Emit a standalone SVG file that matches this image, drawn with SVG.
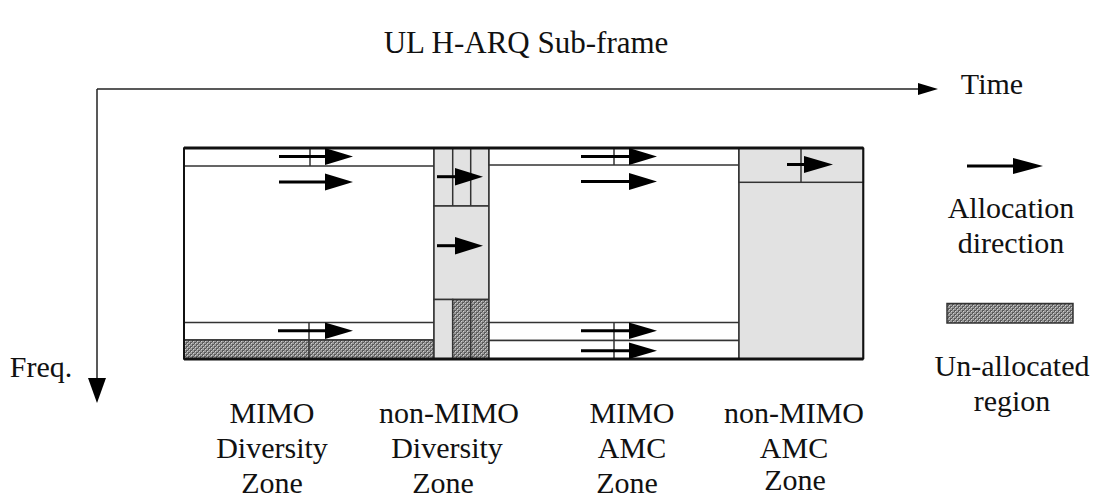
<svg xmlns="http://www.w3.org/2000/svg" width="1098" height="500" viewBox="0 0 1098 500" font-family="Liberation Serif, serif">
<style>
text{font-family:"Liberation Serif",serif;font-size:30px;fill:#111;text-anchor:middle}
.cell{stroke:#333;stroke-width:1.5}
.w{fill:#fff}
.g{fill:#e2e2e2}
.h{fill:url(#hatch)}
.ln{stroke:#333;stroke-width:1.5;fill:none}
.shaft{stroke:#000;stroke-width:3}
.head{fill:#000}
.axis{stroke:#222;stroke-width:1.5;fill:none}
</style>
<defs>
<pattern id="hatch" width="4" height="4" patternUnits="userSpaceOnUse">
<rect width="4" height="4" fill="#9a9a9a"/>
<rect x="0" y="0" width="2" height="2" fill="#5a5a5a"/>
<rect x="2" y="2" width="2" height="2" fill="#5a5a5a"/>
<rect x="1" y="1" width="1" height="1" fill="#d0d0d0"/>
<rect x="3" y="3" width="1" height="1" fill="#d0d0d0"/>
</pattern>
</defs>

<text x="526" y="53" style="font-size:31px">UL H-ARQ Sub-frame</text>

<g id="axes">
<line class="axis" x1="97" y1="89" x2="920" y2="89"/>
<polygon class="head" points="918,83 938,89 918,95"/>
<line class="axis" x1="97" y1="89" x2="97" y2="380"/>
<polygon class="head" points="88,378 106,378 97,403"/>
<text x="992" y="94">Time</text>
<text x="41" y="377">Freq.</text>
</g>

<g id="zone-mimo-diversity">
<rect class="cell w" x="184" y="148" width="250" height="211"/>
<rect class="cell w" x="184" y="148" width="250" height="18"/>
<rect class="cell w" x="184" y="322.5" width="250" height="17.5"/>
<rect class="cell h" x="184" y="340" width="250" height="19"/>
<line class="ln" x1="310" y1="148" x2="310" y2="166"/>
<line class="ln" x1="309" y1="322.5" x2="309" y2="359"/>
<text x="272" y="423">MIMO</text>
<text x="272" y="458">Diversity</text>
<text x="272" y="493">Zone</text>
</g>

<g id="zone-nonmimo-diversity">
<rect class="cell g" x="434" y="148" width="55" height="58"/>
<line class="ln" x1="452.7" y1="148" x2="452.7" y2="206"/>
<line class="ln" x1="470.7" y1="148" x2="470.7" y2="206"/>
<rect class="cell g" x="434" y="206" width="55" height="93.5"/>
<rect class="cell g" x="434" y="299.5" width="18.7" height="59.5"/>
<rect class="cell h" x="452.7" y="299.5" width="36.3" height="59.5"/>
<line class="ln" x1="470.7" y1="299.5" x2="470.7" y2="359"/>
<text x="449" y="423">non-MIMO</text>
<text x="447" y="458">Diversity</text>
<text x="443" y="493">Zone</text>
</g>

<g id="zone-mimo-amc">
<rect class="cell w" x="489" y="148" width="250" height="211"/>
<rect class="cell w" x="489" y="148" width="250" height="17"/>
<rect class="cell w" x="489" y="322.5" width="250" height="18"/>
<rect class="cell w" x="489" y="340.5" width="250" height="18.5"/>
<line class="ln" x1="614" y1="148" x2="614" y2="165"/>
<line class="ln" x1="614" y1="322.5" x2="614" y2="359"/>
<text x="632" y="423">MIMO</text>
<text x="632" y="458">AMC</text>
<text x="627" y="493">Zone</text>
</g>

<g id="zone-nonmimo-amc">
<rect class="cell g" x="739" y="148" width="124.3" height="211"/>
<rect class="cell g" x="739" y="148" width="124.3" height="34.3"/>
<line class="ln" x1="801" y1="148" x2="801" y2="182.3"/>
<text x="794" y="423">non-MIMO</text>
<text x="794" y="458">AMC</text>
<text x="795" y="490">Zone</text>
</g>

<g id="frame-border">
<line x1="184" y1="148" x2="863.3" y2="148" stroke="#111" stroke-width="3"/>
<line x1="184" y1="359" x2="863.3" y2="359" stroke="#111" stroke-width="3"/>
<line x1="184" y1="148" x2="184" y2="359" stroke="#111" stroke-width="2"/>
<line x1="863.3" y1="148" x2="863.3" y2="359" stroke="#111" stroke-width="2"/>
</g>

<g id="connectors">
<line class="shaft" x1="279" y1="156.5" x2="328" y2="156.5"/><polygon class="head" points="325,148 353,156.5 325,165"/>
<line class="shaft" x1="279" y1="182" x2="328" y2="182"/><polygon class="head" points="325,173.5 353,182 325,190.5"/>
<line class="shaft" x1="278" y1="330.7" x2="328" y2="330.7"/><polygon class="head" points="325,322.5 353,330.7 325,339"/>
<line class="shaft" x1="437" y1="176.7" x2="458" y2="176.7"/><polygon class="head" points="455,168 483,176.7 455,185.5"/>
<line class="shaft" x1="437" y1="245.7" x2="458" y2="245.7"/><polygon class="head" points="455,237 483,245.7 455,254.5"/>
<line class="shaft" x1="581" y1="156.5" x2="632" y2="156.5"/><polygon class="head" points="629,148 657,156.5 629,165"/>
<line class="shaft" x1="581" y1="181.5" x2="632" y2="181.5"/><polygon class="head" points="629,173 657,181.5 629,190"/>
<line class="shaft" x1="581" y1="330.7" x2="632" y2="330.7"/><polygon class="head" points="629,322.5 657,330.7 629,339"/>
<line class="shaft" x1="581" y1="350.7" x2="632" y2="350.7"/><polygon class="head" points="629,342.5 657,350.7 629,359"/>
<line class="shaft" x1="787" y1="164.5" x2="807" y2="164.5"/><polygon class="head" points="804,156 833,164.5 804,173"/>
</g>

<g id="legend">
<line class="shaft" x1="967" y1="166" x2="1016" y2="166"/><polygon class="head" points="1013,158 1043,166 1013,174"/>
<text x="1011" y="218">Allocation</text>
<text x="1011" y="253">direction</text>
<rect x="947" y="303.5" width="126" height="19.5" fill="url(#hatch)" stroke="#333" stroke-width="1.5"/>
<text x="1012" y="376">Un-allocated</text>
<text x="1012" y="411">region</text>
</g>
</svg>
